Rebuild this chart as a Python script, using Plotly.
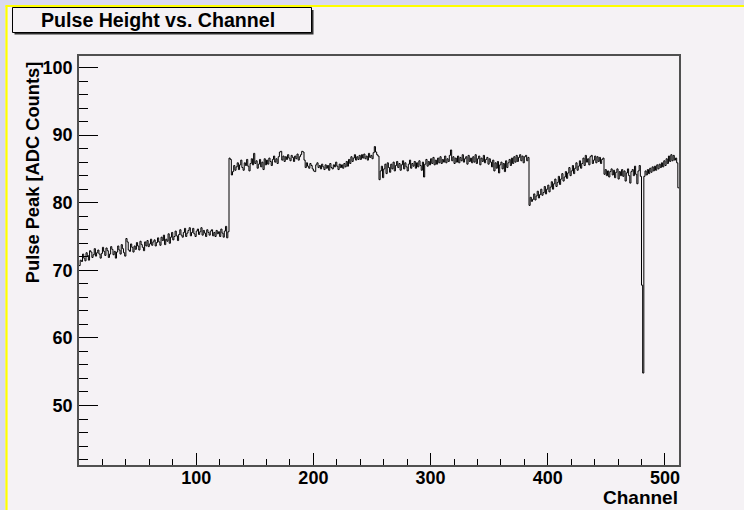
import numpy as np
import plotly.graph_objects as go

# Pulse peak (ADC counts) per channel
pulse_ch000_127 = [
    70.7, 71.5, 71.3, 72.4, 71.8, 71.4, 72.6, 72.2, 71.5, 72.9, 72.7, 71.9, 72.3, 73.2, 72.1, 72.6,
    73.0, 72.4, 71.8, 72.5, 73.4, 72.8, 72.2, 73.3, 72.9, 71.9, 72.4, 73.5, 73.1, 72.3, 72.8, 71.8,
    72.7, 73.6, 73.0, 72.4, 73.8, 73.2, 72.6, 72.1, 74.7, 74.2, 73.0, 72.8, 73.9, 73.4, 72.7, 73.6,
    73.1, 74.1, 73.6, 73.0, 74.3, 73.8, 73.4, 72.9, 74.2, 73.6, 74.4, 73.5, 73.9, 74.6, 73.7, 74.2,
    74.5, 73.6, 74.1, 74.8, 74.2, 73.7, 74.9, 74.4, 75.2, 73.8, 74.6, 74.3, 75.4, 74.0, 74.9, 75.6,
    74.5, 75.0, 75.8, 75.1, 74.4, 75.3, 76.0, 75.2, 74.9, 75.6, 76.2, 75.0, 75.5, 75.9, 76.3, 75.1,
    75.6, 76.2, 75.4, 75.0, 75.8, 76.1, 75.3, 75.7, 76.3, 75.2, 75.9, 75.5, 75.0, 76.0, 75.6, 75.2,
    75.8, 76.0, 75.1, 75.6, 75.0, 75.9, 75.4, 75.7, 75.0, 76.1, 75.5, 74.9, 75.8, 76.5, 74.8, 75.7,
]
pulse_ch128_255 = [
    86.6, 86.4, 84.1, 84.6, 85.5, 84.8, 85.3, 85.9, 84.9, 85.6, 86.3, 85.2, 84.8, 85.9, 85.5, 86.4,
    85.4, 84.7, 85.8, 86.5, 85.6, 87.3, 85.8, 86.2, 85.1, 85.7, 86.4, 85.3, 86.0, 84.9, 86.5, 85.6,
    86.3, 85.7, 86.6, 86.1, 85.5, 86.4, 86.9, 86.0, 86.5, 85.8, 86.8, 87.5, 87.6, 86.3, 86.9, 86.1,
    86.8, 86.4, 87.1, 86.6, 86.2, 87.0, 86.7, 86.1, 86.9, 86.5, 87.2, 86.3, 86.8, 87.1, 87.6, 87.5,
    86.3, 85.2, 85.9, 85.4, 85.1, 85.8, 85.5, 85.0, 84.7, 84.6, 85.6, 85.9, 85.2, 85.5, 85.0, 85.7,
    85.3, 84.9, 85.6, 85.1, 85.5, 84.8, 85.8, 85.2, 85.0, 85.6, 85.3, 86.0, 85.4, 84.9, 85.7, 85.2,
    85.6, 85.1, 85.8, 85.3, 86.1, 85.4, 86.4, 85.8, 86.8, 86.1, 86.6, 87.1, 86.3, 86.8, 86.4, 87.0,
    86.4, 87.1, 86.6, 87.2, 86.5, 86.9, 86.3, 87.3, 86.7, 87.0, 86.5, 87.4, 88.3, 87.5, 87.1, 86.9,
]
pulse_ch256_383 = [
    83.4, 84.7, 85.4, 83.7, 85.0, 85.7, 84.3, 85.9, 85.2, 84.5, 85.7, 85.0, 86.0, 84.7, 85.5, 86.1,
    85.2, 85.8, 84.8, 85.6, 86.2, 85.0, 85.9, 85.3, 84.7, 85.7, 86.3, 85.1, 85.8, 85.4, 86.1, 85.1,
    85.9, 85.3, 86.2, 85.5, 84.8, 86.0, 83.8, 85.7, 86.4, 85.4, 86.1, 85.6, 86.5, 85.8, 86.7, 85.6,
    86.3, 85.7, 86.6, 85.9, 86.8, 85.8, 86.4, 86.0, 86.9, 85.9, 86.5, 86.1, 87.0, 87.8, 86.2, 86.8,
    85.8, 86.6, 86.0, 86.9, 85.9, 86.7, 86.2, 87.1, 86.0, 86.5, 86.8, 85.7, 87.0, 86.1, 86.6, 85.9,
    86.8, 86.0, 87.1, 85.8, 86.5, 86.9, 85.6, 86.6, 86.1, 87.0, 85.9, 86.4, 86.7, 85.7, 86.5, 86.0,
    85.3, 86.3, 84.7, 85.9, 85.1, 86.1, 84.4, 85.6, 86.0, 85.0, 85.8, 84.6, 86.2, 85.2, 85.9, 86.4,
    85.5, 86.6, 85.8, 86.8, 86.0, 87.0, 86.1, 86.7, 87.1, 86.2, 86.9, 85.9, 86.8, 87.0, 86.2, 86.7,
]
pulse_ch384_511 = [
    79.6, 80.8, 80.2, 80.5, 81.3, 80.4, 81.0, 81.7, 80.7, 81.2, 82.0, 81.1, 81.5, 82.4, 81.3, 82.0,
    82.6, 81.6, 82.3, 83.1, 82.0, 82.8, 83.5, 82.4, 83.0, 83.9, 82.7, 83.5, 84.3, 83.2, 83.8, 84.6,
    83.6, 84.4, 85.2, 84.0, 84.7, 85.5, 84.3, 85.1, 85.9, 84.8, 85.4, 86.2, 85.1, 85.8, 86.6, 85.5,
    87.0, 86.0, 86.5, 85.6, 86.8, 87.0, 85.8, 86.3, 86.9, 85.9, 86.8, 86.1, 86.7, 85.8, 86.4, 86.6,
    84.2, 84.9, 84.0, 84.7, 83.8, 84.6, 85.0, 84.1, 84.8, 83.7, 84.5, 85.0, 83.5, 84.6, 84.0, 84.9,
    83.9, 84.7, 83.2, 84.4, 85.0, 84.0, 82.9, 84.6, 84.9, 84.0, 85.4, 84.2, 82.8, 84.7, 85.5, 83.9,
    67.8, 54.8, 83.9, 84.7, 84.1, 84.9, 84.3, 85.1, 84.5, 85.3, 84.7, 85.4, 84.8, 85.6, 85.0, 85.7,
    85.2, 85.9, 85.3, 86.2, 85.5, 86.5, 85.8, 86.9, 86.1, 87.1, 86.2, 87.0, 86.3, 86.6, 85.9, 82.2,
]

x_tick_vals = [100, 200, 300, 400, 500]
y_tick_vals = [50, 60, 70, 80, 90, 100]
x_range = [0, 512]
y_range = [41.2, 101.7]

title_text = "Pulse Height vs. Channel"
x_title = "Channel"
y_title = "Pulse Peak [ADC Counts]"

for seg in (pulse_ch000_127, pulse_ch128_255, pulse_ch256_383, pulse_ch384_511):
    assert len(seg) == 128, len(seg)

values = pulse_ch000_127 + pulse_ch128_255 + pulse_ch256_383 + pulse_ch384_511
n = len(values)
edges = np.arange(n + 1)
y_step = values + [values[-1]]

FONT = "Liberation Sans"
PINK = "#F5F2F5"
BLUE = "#D9D9F0"
W, H = 744, 510
L, R, T, B = 79, 65, 56, 45
PW, PH = W - L - R, H - T - B


def px(xp):
    return (xp - L) / PW


def py(yp):
    return (H - B - yp) / PH


fig = go.Figure()
fig.add_trace(go.Scatter(
    x=edges, y=y_step, mode="lines", line=dict(color="black", width=1, shape="hv"),
    hoverinfo="skip", showlegend=False,
))

axis_common = dict(
    showgrid=False, zeroline=False, showline=True, mirror=True,
    linecolor="#505050", linewidth=1.5, ticks="inside", tickcolor="black", tickwidth=1,
    tickfont=dict(family=FONT, size=18, color="black", weight="bold"),
    tickmode="array", ticklabeloverflow="allow",
)

fig.update_xaxes(
    **axis_common, range=x_range, tickvals=x_tick_vals, ticktext=[str(v) for v in x_tick_vals],
    ticklen=12, ticklabelstandoff=-4,
    minor=dict(tickmode="linear", tick0=0, dtick=20, ticklen=6, ticks="inside",
               tickcolor="black", tickwidth=1, showgrid=False),
)
fig.update_yaxes(
    **axis_common, range=y_range, tickvals=y_tick_vals, ticktext=[str(v) for v in y_tick_vals],
    ticklen=19, ticklabelstandoff=1,
    minor=dict(tickmode="linear", tick0=0, dtick=2, ticklen=9.5, ticks="inside",
               tickcolor="black", tickwidth=1, showgrid=False),
)

shapes = [
    # outer lavender bands and yellow canvas frame
    dict(type="rect", xref="paper", yref="paper", x0=px(-20), x1=px(5.5), y0=py(H + 20), y1=py(-20),
         fillcolor=BLUE, line=dict(width=0), layer="below"),
    dict(type="rect", xref="paper", yref="paper", x0=px(-20), x1=px(W + 20), y0=py(5.0), y1=py(-20),
         fillcolor=BLUE, line=dict(width=0), layer="below"),
    dict(type="line", xref="paper", yref="paper", x0=px(6.5), x1=px(6.5), y0=py(5.5), y1=py(H + 20),
         line=dict(color="#FFFF00", width=2.2)),
    dict(type="line", xref="paper", yref="paper", x0=px(5.5), x1=px(W + 20), y0=py(6.0), y1=py(6.0),
         line=dict(color="#FFFF00", width=2.2)),
    # title box shadow and box
    dict(type="rect", xref="paper", yref="paper", x0=px(14.5), x1=px(313.5), y0=py(34.5), y1=py(10),
         fillcolor="#303030", line=dict(width=0)),
    dict(type="rect", xref="paper", yref="paper", x0=px(12.5), x1=px(311.5), y0=py(32.5), y1=py(7.5),
         fillcolor=PINK, line=dict(color="black", width=1)),
]

annotations = [
    dict(text=title_text, xref="paper", yref="paper", x=px(158), y=py(20.5),
         xanchor="center", yanchor="middle", showarrow=False,
         font=dict(family=FONT, size=19.6, color="black", weight="bold")),
    dict(text=x_title, xref="paper", yref="paper", x=px(679.5), y=py(497.5),
         xanchor="right", yanchor="middle", showarrow=False,
         font=dict(family=FONT, size=19, color="black", weight="bold")),
    dict(text=y_title, xref="paper", yref="paper", x=px(32.5), y=py(172.7),
         xanchor="center", yanchor="middle", showarrow=False, textangle=-90,
         font=dict(family=FONT, size=18.3, color="black", weight="bold")),
]

fig.update_layout(
    width=W, height=H, margin=dict(l=L, r=R, t=T, b=B, pad=0),
    paper_bgcolor=PINK, plot_bgcolor=PINK,
    shapes=shapes, annotations=annotations, showlegend=False,
)

fig.write_html("out.html", config={"displayModeBar": False},
               post_script="document.body.style.margin='0';")
